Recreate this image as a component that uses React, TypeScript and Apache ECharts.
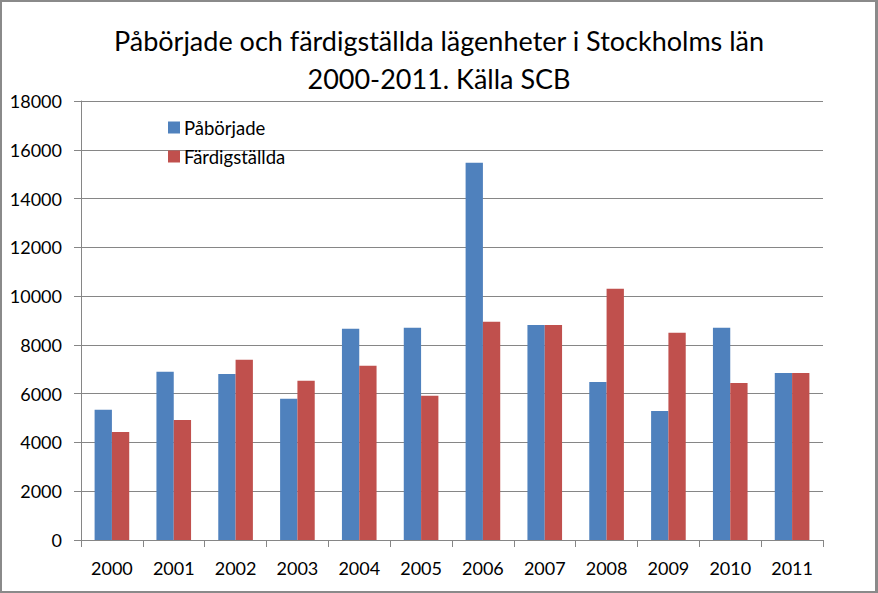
import React, { useEffect, useRef } from "react";
import * as echarts from "echarts";

const years = ["2000", "2001", "2002", "2003", "2004", "2005", "2006", "2007", "2008", "2009", "2010", "2011"];
const paborjade = [5340, 6900, 6810, 5790, 8660, 8700, 15470, 8820, 6480, 5290, 8700, 6850];
const fardigstallda = [4430, 4920, 7390, 6530, 7140, 5910, 8950, 8820, 10300, 8500, 6440, 6850];
const titleLines = ["Påbörjade och färdigställda lägenheter i Stockholms län", "2000-2011. Källa SCB"];

const FONT = "Lato";

export default function App() {
  const ref = useRef<HTMLDivElement>(null);
  useEffect(() => {
    const chart = echarts.init(ref.current!, null, { renderer: "svg" });
    chart.setOption({
      animation: false,
      backgroundColor: "transparent",
      title: {
        text: titleLines.join("\n"),
        left: "center",
        top: 16,
        textStyle: { fontFamily: FONT, fontSize: 27, fontWeight: "normal", color: "#000", lineHeight: 38 },
      },
      legend: {
        orient: "vertical",
        left: 163,
        top: 113,
        itemWidth: 12,
        itemHeight: 12,
        itemGap: 10,
        icon: "rect",
        textStyle: { fontFamily: FONT, fontSize: 18.5, color: "#000", padding: [0, 0, 0, -1] },
        data: ["Påbörjade", "Färdigställda"],
      },
      grid: { left: 81, right: 55, top: 101, bottom: 53, containLabel: false },
      xAxis: {
        type: "category",
        data: years,
        axisLine: { lineStyle: { color: "#868686", width: 1 } },
        axisTick: { show: true, length: 7, lineStyle: { color: "#868686" } },
        axisLabel: { fontFamily: FONT, fontSize: 18, color: "#000", margin: 19 },
      },
      yAxis: {
        type: "value",
        min: 0,
        max: 18000,
        interval: 2000,
        axisLine: { show: true, lineStyle: { color: "#868686", width: 1 } },
        axisTick: { show: true, length: 7, lineStyle: { color: "#868686" } },
        axisLabel: { fontFamily: FONT, fontSize: 18, color: "#000", margin: 19, formatter: (v: number) => String(v) },
        splitLine: { lineStyle: { color: "#868686", width: 1 } },
      },
      series: [
        {
          name: "Påbörjade",
          type: "bar",
          data: paborjade,
          itemStyle: { color: "#4f81bd" },
          barGap: "0%",
          barCategoryGap: "44%",
        },
        {
          name: "Färdigställda",
          type: "bar",
          data: fardigstallda,
          itemStyle: { color: "#c0504d" },
          barGap: "0%",
          barCategoryGap: "44%",
        },
      ],
    });
    return () => chart.dispose();
  }, []);
  return (
    <div
      style={{
        position: "fixed",
        left: 0,
        top: 0,
        width: 878,
        height: 593,
        boxSizing: "border-box",
        border: "2px solid #8a8a8a",
        borderRight: "3px solid #8a8a8a",
        background: "#fff",
      }}
    >
      <div ref={ref} style={{ position: "absolute", left: -2, top: -2, width: 878, height: 593 }} />
    </div>
  );
}
